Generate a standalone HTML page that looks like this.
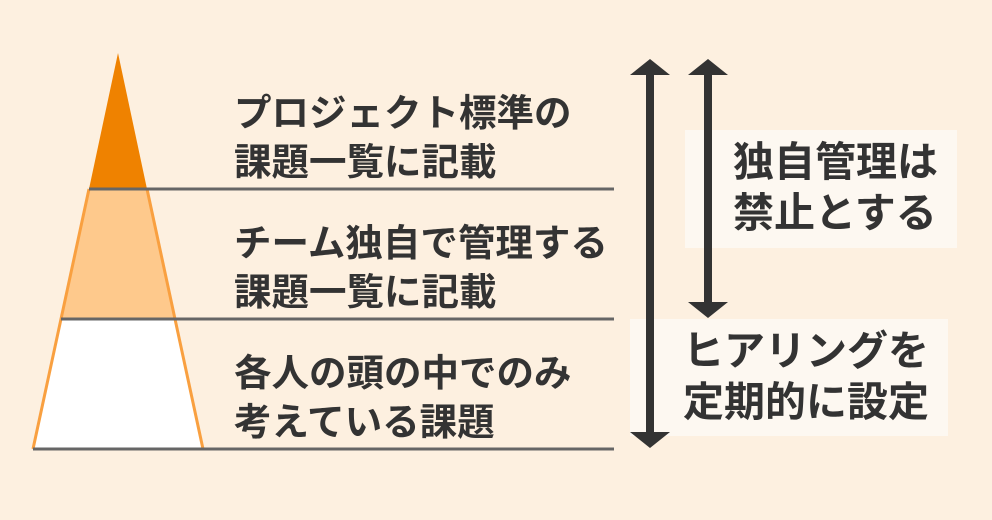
<!DOCTYPE html>
<html><head><meta charset="utf-8"><style>
body{margin:0;width:992px;height:520px;background:#fdf0e0;overflow:hidden;position:relative;font-family:"Liberation Sans","Noto Sans CJK JP",sans-serif;font-weight:bold;color:#333}
.t{position:absolute;font-size:37.5px;line-height:49px;white-space:nowrap}
.b{position:absolute;background:#fdf8f1}
.bt{position:absolute;font-size:41px;line-height:51px;white-space:nowrap}
</style></head><body>
<svg width="992" height="520" style="position:absolute;left:0;top:0">
<polygon points="33,449 61,319 175,319 203,449" fill="#fff"/>
<polygon points="61,319 89,189 147,189 175,319" fill="#fec98c"/>
<polygon points="89,189 118,53 147,189" fill="#ef8200"/>
<line x1="33" y1="449" x2="89" y2="189" stroke="#f9a040" stroke-width="3"/>
<line x1="203" y1="449" x2="147" y2="189" stroke="#f9a040" stroke-width="3"/>
<line x1="89" y1="189" x2="614" y2="189" stroke="#666" stroke-width="3"/>
<line x1="61" y1="319" x2="614" y2="319" stroke="#666" stroke-width="3"/>
<line x1="33" y1="449" x2="614" y2="449" stroke="#666" stroke-width="3"/>
</svg>
<div class="b" style="left:685px;top:130px;width:272px;height:118px"></div>
<div class="b" style="left:630px;top:319px;width:318px;height:117px"></div>
<svg width="992" height="520" style="position:absolute;left:0;top:0">
<g fill="#333">
<rect x="646" y="70" width="8" height="368"/>
<polygon points="650,59 670,75 630,75"/>
<polygon points="650,448 670,432 630,432"/>
<rect x="704" y="70" width="8" height="238"/>
<polygon points="708,59 728,75 688,75"/>
<polygon points="708,318 728,302 688,302"/>
</g></svg>
<div class="t" style="left:234px;top:89px">プロジェクト標準の<br>課題一覧に記載</div>
<div class="t" style="left:234px;top:219px">チーム独自で管理する<br>課題一覧に記載</div>
<div class="t" style="left:234px;top:349px">各人の頭の中でのみ<br>考えている課題</div>
<div class="bt" style="left:733px;top:137px">独自管理は<br>禁止とする</div>
<div class="bt" style="left:683px;top:326px">ヒアリングを<br>定期的に設定</div>
</body></html>
